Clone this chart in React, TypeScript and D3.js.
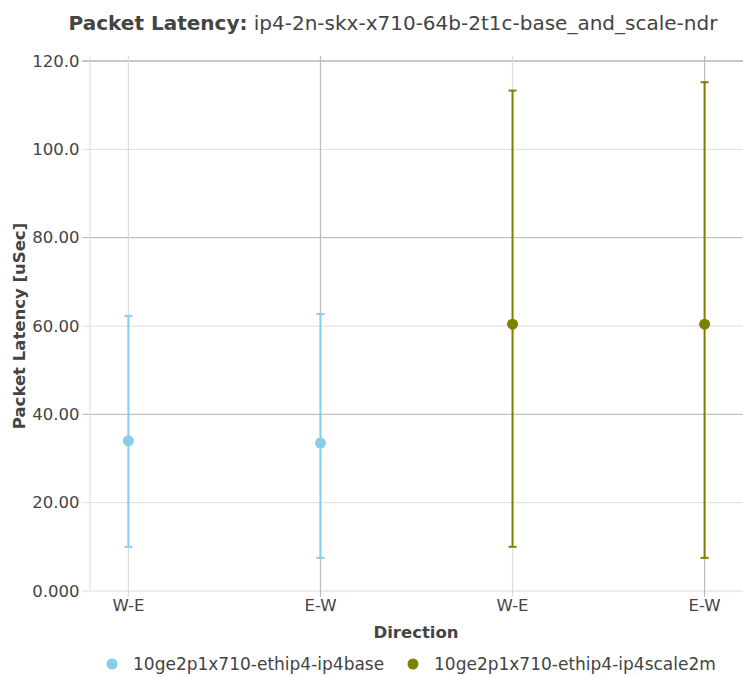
import React from "react";
import * as d3 from "d3";

const categories = ["W-E", "E-W", "W-E", "E-W"];
const seriesNames = ["10ge2p1x710-ethip4-ip4base", "10ge2p1x710-ethip4-ip4scale2m"];
const seriesColors = ["#87ceeb", "#808000"];
// per point: series index, avg, min, max
const pointSeries = [0, 0, 1, 1];
const avgValues = [34.0, 33.5, 60.4, 60.4];
const minValues = [10.0, 7.5, 10.0, 7.5];
const maxValues = [62.3, 62.7, 113.3, 115.2];
const yTicks = [0, 20, 40, 60, 80, 100, 120];
const yTickLabels = ["0.000", "20.00", "40.00", "60.00", "80.00", "100.0", "120.0"];

const W = 743;
const H = 676;
const left = 90;
const right = 743;
const top = 61;
const bottom = 591;
const font = "'DejaVu Sans', sans-serif";
const textColor = "#444";

export default function App() {
  const x = d3.scaleLinear().domain([-0.2, 3.2]).range([left, right]);
  const y = d3.scaleLinear().domain([0, 120]).range([bottom, top]);
  const darkY = new Set([40, 80, 120]);
  return (
    <svg width={W} height={H} style={{ position: "absolute", left: 0, top: 0, background: "#fff" }} fontFamily={font}>
      {/* horizontal grid */}
      {yTicks.map((t) => (
        <line key={"g" + t} x1={left - 8} x2={right} y1={y(t)} y2={y(t)}
          stroke={darkY.has(t) ? "#b4b4b4" : "#dcdcdc"} strokeWidth={t === 120 ? 1.5 : 1} />
      ))}
      {/* left axis line */}
      <line x1={left} x2={left} y1={top - 5} y2={bottom} stroke="#dcdcdc" strokeWidth={1} />
      {/* vertical grid */}
      {categories.map((c, i) => (
        <line key={"v" + i} x1={x(i)} x2={x(i)} y1={top - 5} y2={bottom + 6}
          stroke={i % 2 === 1 ? "#bcbcbc" : "#dcdcdc"} strokeWidth={1.2} />
      ))}
      {/* y tick labels */}
      {yTicks.map((t, i) => (
        <text key={"yl" + t} x={left - 10.5} y={y(t)} dy="0.35em" textAnchor="end" fontSize={16.5} fill={textColor}>
          {yTickLabels[i]}
        </text>
      ))}
      {/* x tick labels */}
      {categories.map((c, i) => (
        <text key={"xl" + i} x={x(i)} y={bottom + 20} textAnchor="middle" fontSize={16.5} fill={textColor}>
          {c}
        </text>
      ))}
      {/* error bars */}
      {categories.map((c, i) => {
        const col = seriesColors[pointSeries[i]];
        const cx = x(i);
        return (
          <g key={"e" + i}>
            <line x1={cx} x2={cx} y1={y(minValues[i])} y2={y(maxValues[i])} stroke={col} strokeWidth={2} />
            <line x1={cx - 4} x2={cx + 4} y1={y(minValues[i])} y2={y(minValues[i])} stroke={col} strokeWidth={2} />
            <line x1={cx - 4} x2={cx + 4} y1={y(maxValues[i])} y2={y(maxValues[i])} stroke={col} strokeWidth={2} />
            <circle cx={cx} cy={y(avgValues[i])} r={5.5} fill={col} />
          </g>
        );
      })}
      {/* title */}
      <text x={393} y={30} textAnchor="middle" fontSize={20} fill={textColor}>
        <tspan fontWeight="bold">Packet Latency:</tspan>
        <tspan> ip4-2n-skx-x710-64b-2t1c-base_and_scale-ndr</tspan>
      </text>
      {/* axis titles */}
      <text x={416} y={638} textAnchor="middle" fontSize={16.5} fontWeight="bold" fill={textColor}>Direction</text>
      <text transform={`translate(25, ${(top + bottom) / 2}) rotate(-90)`} textAnchor="middle" fontSize={16.5} fontWeight="bold" fill={textColor}>
        Packet Latency [uSec]
      </text>
      {/* legend */}
      {seriesNames.map((s, i) => {
        const lx = i === 0 ? 112 : 413;
        return (
          <g key={"lg" + i}>
            <circle cx={lx} cy={664} r={5.5} fill={seriesColors[i]} />
            <text x={lx + 21} y={664} dy="0.35em" fontSize={17} fill={textColor}>{s}</text>
          </g>
        );
      })}
    </svg>
  );
}
